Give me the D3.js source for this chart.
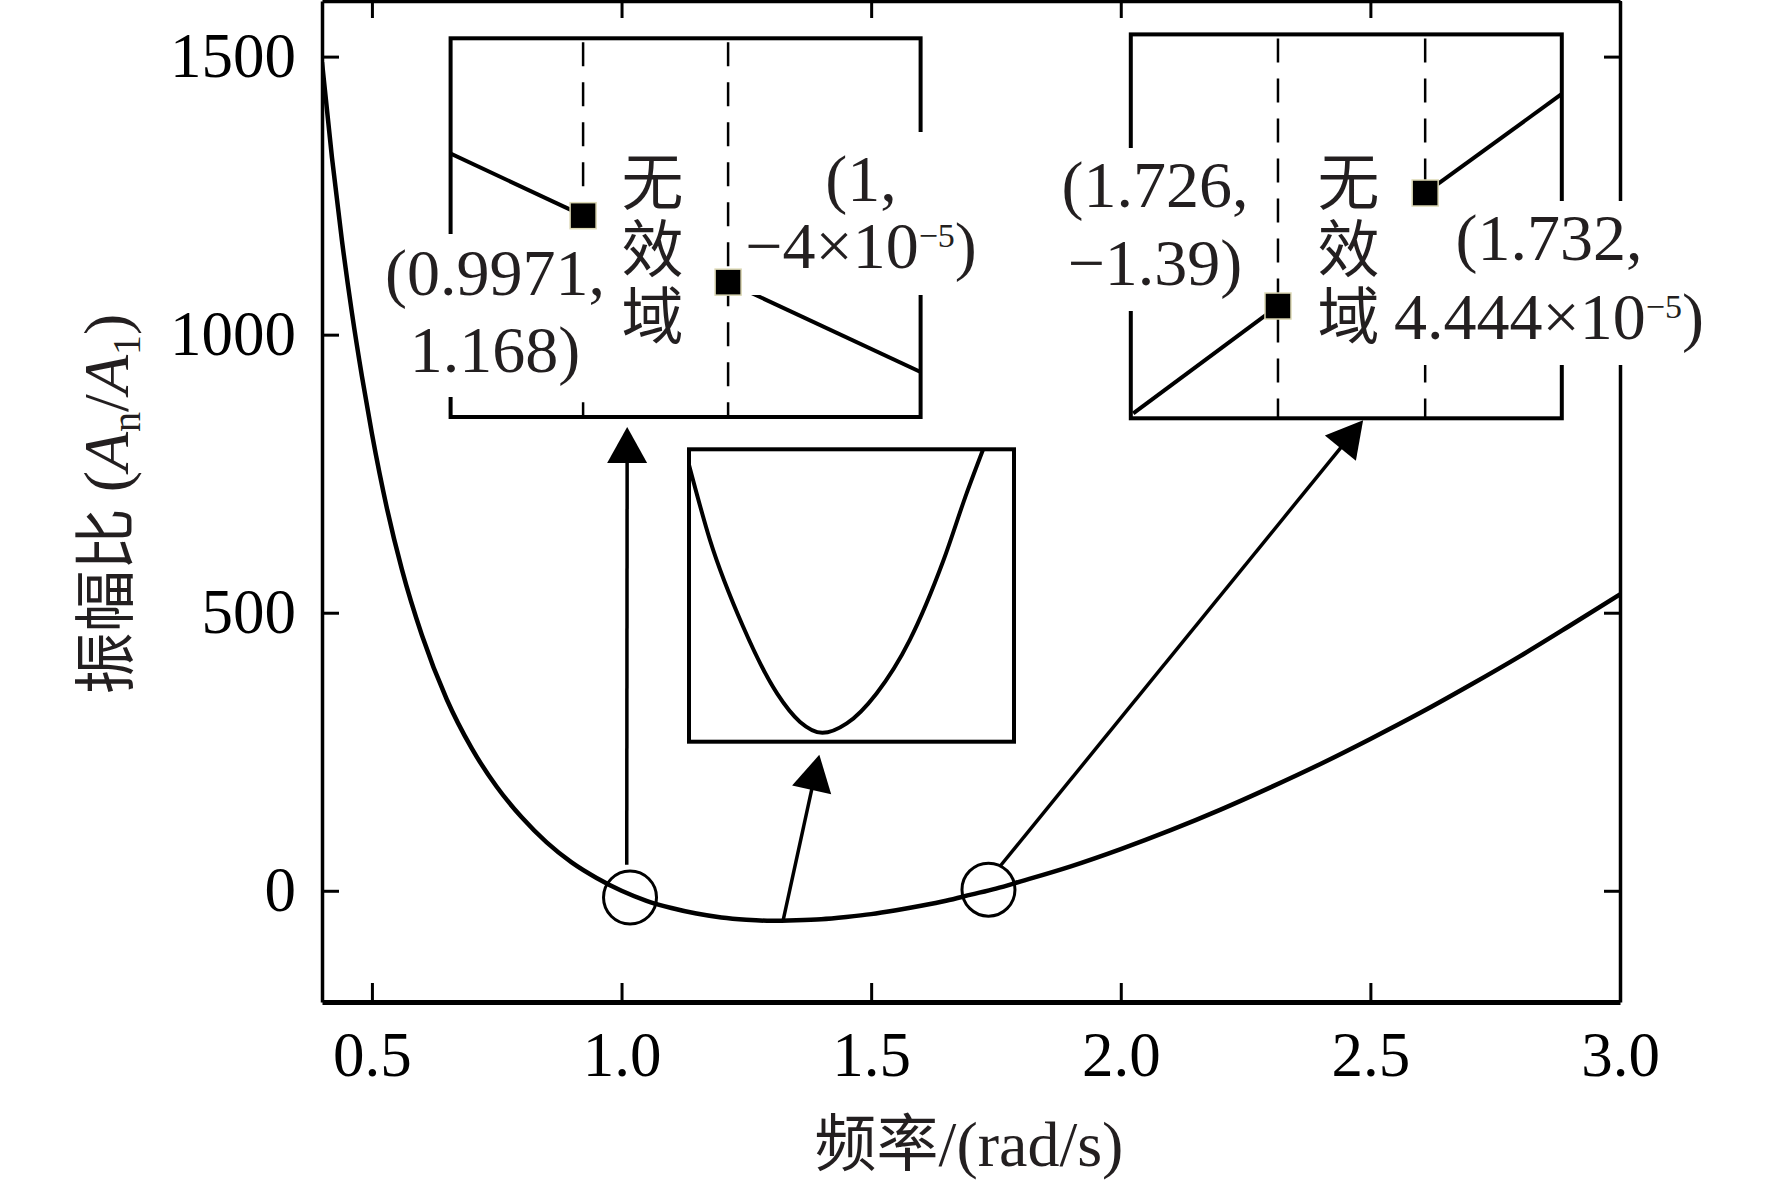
<!DOCTYPE html>
<html>
<head>
<meta charset="utf-8">
<script src="https://cdn.jsdelivr.net/npm/d3@7"></script>
<style>
  body { margin: 0; background: #fff; }
</style>
</head>
<body>
<div id="chart"></div>
<script>
// amplitude ratio A_n/A_1 against frequency
var freq  = [0.40, 0.42, 0.44, 0.46, 0.48, 0.50, 0.53, 0.56, 0.60, 0.65, 0.70, 0.75, 0.80, 0.85,
             0.90, 0.95, 1.00, 1.05, 1.10, 1.15, 1.20, 1.25, 1.30, 1.35, 1.40, 1.45, 1.50, 1.55,
             1.60, 1.65, 1.70, 1.75, 1.80, 1.90, 2.00, 2.10, 2.20, 2.30, 2.40, 2.50, 2.60, 2.70,
             2.80, 2.90, 3.00];
var ratio = [1490, 1318, 1169, 1039, 925, 822, 688, 578, 460, 344, 256, 187, 132, 87,
             51, 23, 0, -18, -31, -41, -48, -52, -54, -53, -51, -47, -42, -35,
             -27, -18, -7, 4, 17, 44, 75, 109, 146, 186, 228, 273, 320, 370,
             422, 477, 533];

var xTicks = [0.5, 1.0, 1.5, 2.0, 2.5, 3.0];
var yTicks = [0, 500, 1000, 1500];

// inset: the minimum of the curve
var minFreq  = [1.120, 1.151, 1.200, 1.250, 1.284, 1.317, 1.353, 1.397, 1.446, 1.496, 1.530, 1.554];
var minRatio = [-35.46, -40.55, -46.42, -50.93, -52.86, -53.60, -52.96, -50.93, -47.32, -41.90, -37.38, -34.45];

// inset: first root, near w = 1
var root1LeftFreq   = [0.99445, 0.9971];
var root1LeftRatio  = [2.26, 1.168];
var root1RightFreq  = [1.0, 1.00385];
var root1RightRatio = [-0.00004, -1.58];

// inset: second root, near w = 1.732
var root2LeftFreq   = [1.7201, 1.726];
var root2LeftRatio  = [-2.71, -1.39];
var root2RightFreq  = [1.732, 1.73757];
var root2RightRatio = [0.00004444, 1.218];

// circled spots on the main curve
var circleFreq  = [1.017, 1.735];
var circleRatio = [-12, 2];

// where the arrows start on the main curve
var arrowFreq  = [1.0104, 1.324, 1.759];
var arrowRatio = [47, -52, 45];


var W = 1772, H = 1186;
var LEFT = 322, RIGHT = 1620, TOP = 1, BOTTOM = 1002;
var SERIF = "'Liberation Serif', 'Times New Roman', serif";
var CJK = "'Noto Sans CJK SC', sans-serif";
var INK = "#231f20";

var svg = d3.select("#chart").append("svg")
    .attr("width", W)
    .attr("height", H);

var x = d3.scaleLinear().domain([0.4, 3.0]).range([LEFT, RIGHT]);
var y = d3.scaleLinear().domain([-200, 1600]).range([BOTTOM, TOP]);

var pairs = function (xs, ys) {
    return xs.map(function (d, i) { return [d, ys[i]]; });
};

// ---- frame and ticks (all ticks point inward)
var styleAxis = function (g, width) {
    g.select(".domain").attr("stroke", "#000").attr("stroke-width", width);
    g.selectAll(".tick line").attr("stroke", "#000").attr("stroke-width", 3);
    g.selectAll(".tick text")
        .attr("font-family", SERIF)
        .attr("font-size", 63)
        .attr("fill", "#000");
};

var gTop = svg.append("g").attr("transform", "translate(0," + TOP + ")")
    .call(d3.axisTop(x).tickValues(xTicks).tickSizeInner(-17).tickSizeOuter(0).tickFormat(""));
styleAxis(gTop, 3.5);

var gRight = svg.append("g").attr("transform", "translate(" + RIGHT + ",0)")
    .call(d3.axisRight(y).tickValues(yTicks).tickSizeInner(-16).tickSizeOuter(0).tickFormat(""));
styleAxis(gRight, 3.5);

var gLeft = svg.append("g").attr("transform", "translate(" + LEFT + ",0)")
    .call(d3.axisLeft(y).tickValues(yTicks).tickSizeInner(-17).tickSizeOuter(0)
        .tickPadding(26).tickFormat(d3.format("d")));
styleAxis(gLeft, 3.5);

var gBottom = svg.append("g").attr("transform", "translate(0," + BOTTOM + ")")
    .call(d3.axisBottom(x).tickValues(xTicks).tickSizeInner(-19).tickSizeOuter(0)
        .tickPadding(29).tickFormat(d3.format(".1f")));
styleAxis(gBottom, 5);

// ---- main curve
svg.append("clipPath").attr("id", "plotClip")
    .append("rect").attr("x", LEFT).attr("y", TOP).attr("width", RIGHT - LEFT).attr("height", BOTTOM - TOP);

var line = d3.line()
    .x(function (d) { return x(d[0]); })
    .y(function (d) { return y(d[1]); })
    .curve(d3.curveMonotoneX);

svg.append("path")
    .datum(pairs(freq, ratio))
    .attr("clip-path", "url(#plotClip)")
    .attr("fill", "none")
    .attr("stroke", "#000")
    .attr("stroke-width", 4.5)
    .attr("d", line);

svg.selectAll(".spot")
    .data(pairs(circleFreq, circleRatio))
    .enter().append("circle")
    .attr("class", "spot")
    .attr("cx", function (d) { return x(d[0]); })
    .attr("cy", function (d) { return y(d[1]); })
    .attr("r", 26.5)
    .attr("fill", "none")
    .attr("stroke", "#000")
    .attr("stroke-width", 3);

// ---- insets
var insets = [
    {id: "in1", x0: 450.6, y0: 38.3, x1: 920.6, y1: 417, xd: [0.99445, 1.00385], yd: [-2.37, 4.285]},
    {id: "in2", x0: 1130.8, y0: 34.4, x1: 1561.8, y1: 418.3, xd: [1.72, 1.73757], yd: [-2.771, 1.951]},
    {id: "in3", x0: 689, y0: 449.3, x1: 1014, y1: 741.7, xd: [1.12, 1.60], yd: [-54.2, -34.4]}
];

insets.forEach(function (b) {
    b.x = d3.scaleLinear().domain(b.xd).range([b.x0, b.x1]);
    b.y = d3.scaleLinear().domain(b.yd).range([b.y1, b.y0]);
    b.line = d3.line()
        .x(function (d) { return b.x(d[0]); })
        .y(function (d) { return b.y(d[1]); })
        .curve(d3.curveMonotoneX);
    b.g = svg.append("g");
    b.g.append("clipPath").attr("id", b.id + "Clip")
        .append("rect").attr("x", b.x0).attr("y", b.y0).attr("width", b.x1 - b.x0).attr("height", b.y1 - b.y0);
    b.g.append("rect")
        .attr("x", b.x0).attr("y", b.y0)
        .attr("width", b.x1 - b.x0).attr("height", b.y1 - b.y0)
        .attr("fill", "#fff");
    b.inner = b.g.append("g").attr("clip-path", "url(#" + b.id + "Clip)");
});

var drawSeg = function (b, xs, ys) {
    b.inner.append("path")
        .datum(pairs(xs, ys))
        .attr("fill", "none")
        .attr("stroke", "#000")
        .attr("stroke-width", 4)
        .attr("d", b.line);
};

var drawDash = function (b, v) {
    b.inner.append("line")
        .attr("x1", b.x(v)).attr("x2", b.x(v))
        .attr("y1", b.y0 + 4).attr("y2", b.y1)
        .attr("stroke", "#000")
        .attr("stroke-width", 2.5)
        .attr("stroke-dasharray", "24,16");
};

drawDash(insets[0], root1LeftFreq[1]);
drawDash(insets[0], root1RightFreq[0]);
drawSeg(insets[0], root1LeftFreq, root1LeftRatio);
drawSeg(insets[0], root1RightFreq, root1RightRatio);

drawDash(insets[1], root2LeftFreq[1]);
drawDash(insets[1], root2RightFreq[0]);
drawSeg(insets[1], root2LeftFreq, root2LeftRatio);
drawSeg(insets[1], root2RightFreq, root2RightRatio);

drawSeg(insets[2], minFreq, minRatio);

insets.forEach(function (b) {
    b.g.append("rect")
        .attr("x", b.x0).attr("y", b.y0)
        .attr("width", b.x1 - b.x0).attr("height", b.y1 - b.y0)
        .attr("fill", "none")
        .attr("stroke", "#000")
        .attr("stroke-width", 4);
});

// ---- arrows from the curve to the insets
var arrowTips = [
    {inset: 0, fx: 0.3757, gap: 10},
    {inset: 2, fx: 0.401, gap: 13},
    {inset: 1, fx: 0.539, gap: 2}
];

arrowTips.forEach(function (a, i) {
    var b = insets[a.inset];
    var sx = x(arrowFreq[i]), sy = y(arrowRatio[i]);
    var tx = b.x0 + a.fx * (b.x1 - b.x0), ty = b.y1 + a.gap;
    var dx = tx - sx, dy = ty - sy, len = Math.sqrt(dx * dx + dy * dy);
    var ux = dx / len, uy = dy / len;
    var hl = 36, hw = 20;
    var bx = tx - ux * hl, by = ty - uy * hl;
    svg.append("line")
        .attr("x1", sx).attr("y1", sy).attr("x2", bx + ux * 2).attr("y2", by + uy * 2)
        .attr("stroke", "#000").attr("stroke-width", 3.5);
    svg.append("path")
        .attr("d", "M" + tx + "," + ty +
            "L" + (bx - uy * hw) + "," + (by + ux * hw) +
            "L" + (bx + uy * hw) + "," + (by - ux * hw) + "Z")
        .attr("fill", "#000");
});

// ---- notes with white knockouts
var notes = svg.append("g");

var note = function (cx, baselines, lines, pad) {
    var g = notes.append("g");
    var t = g.append("text")
        .attr("text-anchor", "middle")
        .attr("font-family", SERIF)
        .attr("font-size", 66)
        .attr("fill", INK);
    lines.forEach(function (ln, i) {
        var first = t.append("tspan").attr("x", cx).attr("y", baselines[i]).text(ln[0]);
        if (ln.length > 1) {
            t.append("tspan").attr("font-size", 34).attr("dy", -21).text(ln[1]);
            t.append("tspan").attr("dy", 21).text(ln[2]);
        }
    });
    var bb = t.node().getBBox();
    g.insert("rect", "text")
        .attr("x", bb.x - 6).attr("y", bb.y - pad[0])
        .attr("width", bb.width + 12).attr("height", bb.height + pad[0] + pad[1])
        .attr("fill", "#fff");
};

note(495, [295, 372], [["(0.9971,"], ["1.168)"]], [2, 10]);
note(861, [201, 268], [["(1,"], ["\u22124\u00d710", "\u22125", ")"]], [10, 12]);
note(1155, [207, 285], [["(1.726,"], ["\u22121.39)"]], [0, 11]);
note(1549, [260, 339], [["(1.732,"], ["4.444\u00d710", "\u22125", ")"]], [0, 11]);

// invalid-domain label between the dashed lines
[[insets[0], root1LeftFreq[1], root1RightFreq[0]],
 [insets[1], root2LeftFreq[1], root2RightFreq[0]]].forEach(function (s) {
    var cx = (s[0].x(s[1]) + s[0].x(s[2])) / 2;
    ["\u65e0", "\u6548", "\u57df"].forEach(function (ch, i) {
        notes.append("text")
            .attr("x", cx - 3)
            .attr("y", 178 + i * 67)
            .attr("text-anchor", "middle")
            .attr("dominant-baseline", "central")
            .attr("font-family", CJK)
            .attr("font-size", 62)
            .attr("fill", INK)
            .text(ch);
    });
});

// squares on the end points
var squares = pairs([root1LeftFreq[1], root1RightFreq[0]], [root1LeftRatio[1], root1RightRatio[0]])
    .map(function (d) { return {b: insets[0], d: d}; })
    .concat(pairs([root2LeftFreq[1], root2RightFreq[0]], [root2LeftRatio[1], root2RightRatio[0]])
        .map(function (d) { return {b: insets[1], d: d}; }));

svg.selectAll(".sq")
    .data(squares)
    .enter().append("rect")
    .attr("class", "sq")
    .attr("x", function (s) { return s.b.x(s.d[0]) - 13; })
    .attr("y", function (s) { return s.b.y(s.d[1]) - 13; })
    .attr("width", 26)
    .attr("height", 26)
    .attr("fill", "#000")
    .attr("stroke", "#dcd8b4")
    .attr("stroke-width", 1.5);

// ---- axis titles
var xt = svg.append("text")
    .attr("x", (LEFT + RIGHT) / 2 - 2)
    .attr("y", 1166)
    .attr("text-anchor", "middle")
    .attr("font-family", SERIF)
    .attr("font-size", 64)
    .attr("fill", INK);
xt.append("tspan").attr("font-family", CJK).attr("font-size", 62).text("\u9891\u7387");
xt.append("tspan").text("/(rad/s)");

var yt = svg.append("text")
    .attr("transform", "translate(128,504) rotate(-90)")
    .attr("text-anchor", "middle")
    .attr("font-family", SERIF)
    .attr("font-size", 64)
    .attr("fill", INK);
yt.append("tspan").attr("font-family", CJK).attr("font-size", 62).text("\u632f\u5e45\u6bd4");
yt.append("tspan").text(" (");
yt.append("tspan").attr("font-style", "italic").text("A");
yt.append("tspan").attr("font-size", 40).attr("dy", 12).text("n");
yt.append("tspan").attr("dy", -12).text("/");
yt.append("tspan").attr("font-style", "italic").text("A");
yt.append("tspan").attr("font-size", 40).attr("dy", 12).text("1");
yt.append("tspan").attr("dy", -12).text(")");
</script>
</body>
</html>
